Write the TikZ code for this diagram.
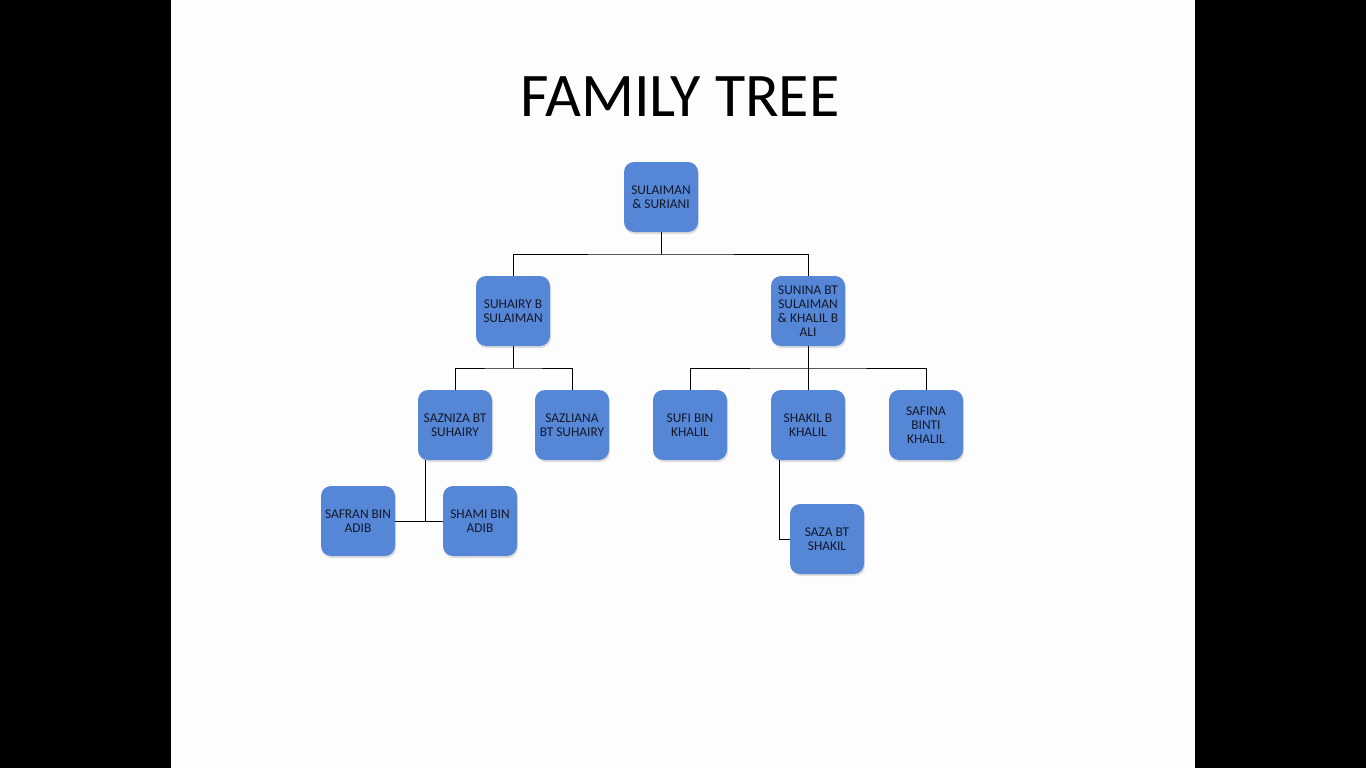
\documentclass[tikz,border=0pt]{standalone}
\usepackage{fontspec}
\setmainfont{Carlito}
\usetikzlibrary{shadows}
\definecolor{boxblue}{RGB}{86,135,214}
\definecolor{boxtext}{RGB}{18,24,42}
\definecolor{slide}{RGB}{254,253,254}
\tikzset{
  person/.style={draw=none, fill=boxblue, rounded corners=10pt,
    minimum width=74pt, minimum height=70pt, inner sep=2pt,
    align=center, text=boxtext,
    font=\fontsize{13.4}{14}\selectfont,
    drop shadow={opacity=0.25, shadow xshift=1pt, shadow yshift=-2pt}},
  link/.style={draw=black, line width=1pt}
}
\begin{document}
\begin{tikzpicture}[x=1pt,y=-1pt]
\useasboundingbox (0,0) rectangle (1366,768);
\fill[black] (0,0) rectangle (1366,768);
\fill[slide] (171,0) rectangle (1195,768);
\node[anchor=base, font=\fontsize{62}{70}\selectfont] (title) at (680,117) {FAMILY TREE};

\node[person] (root) at (661,197) {SULAIMAN\\\& SURIANI};
\node[person] (suhairy) at (513,311) {SUHAIRY B\\SULAIMAN};
\node[person] (sunina) at (808,311) {SUNINA BT\\SULAIMAN\\\& KHALIL B\\ALI};
\node[person] (sazniza) at (455,425) {SAZNIZA BT\\SUHAIRY};
\node[person] (sazliana) at (572,425) {SAZLIANA\\BT SUHAIRY};
\node[person] (sufi) at (690,425) {SUFI BIN\\KHALIL};
\node[person] (shakil) at (808,425) {SHAKIL B\\KHALIL};
\node[person] (safina) at (926,425) {SAFINA\\BINTI\\KHALIL};
\node[person] (safran) at (358,521) {SAFRAN BIN\\ADIB};
\node[person] (shami) at (480,521) {SHAMI BIN\\ADIB};
\node[person] (saza) at (827,539) {SAZA BT\\SHAKIL};

\coordinate (j1) at (661,254);
\coordinate (j2) at (513,368);
\coordinate (j3) at (808,368);
\coordinate (j4) at (425,521);
\coordinate (j5) at (779,539);

\draw[link] (root.south) -- (j1);
\draw[link] (suhairy.north) |- (j1) -| (sunina.north);
\draw[link] (suhairy.south) -- (j2);
\draw[link] (sazniza.north) |- (j2) -| (sazliana.north);
\draw[link] (sunina.south) -- (j3);
\draw[link] (sufi.north) |- (j3) -| (safina.north);
\draw[link] (j3) -- (shakil.north);
\draw[link] (sazniza.south -| j4) -- (j4);
\draw[link] (safran.east) -- (shami.west);
\draw[link] (shakil.south -| j5) -- (j5) -- (saza.west);
\end{tikzpicture}
\end{document}
